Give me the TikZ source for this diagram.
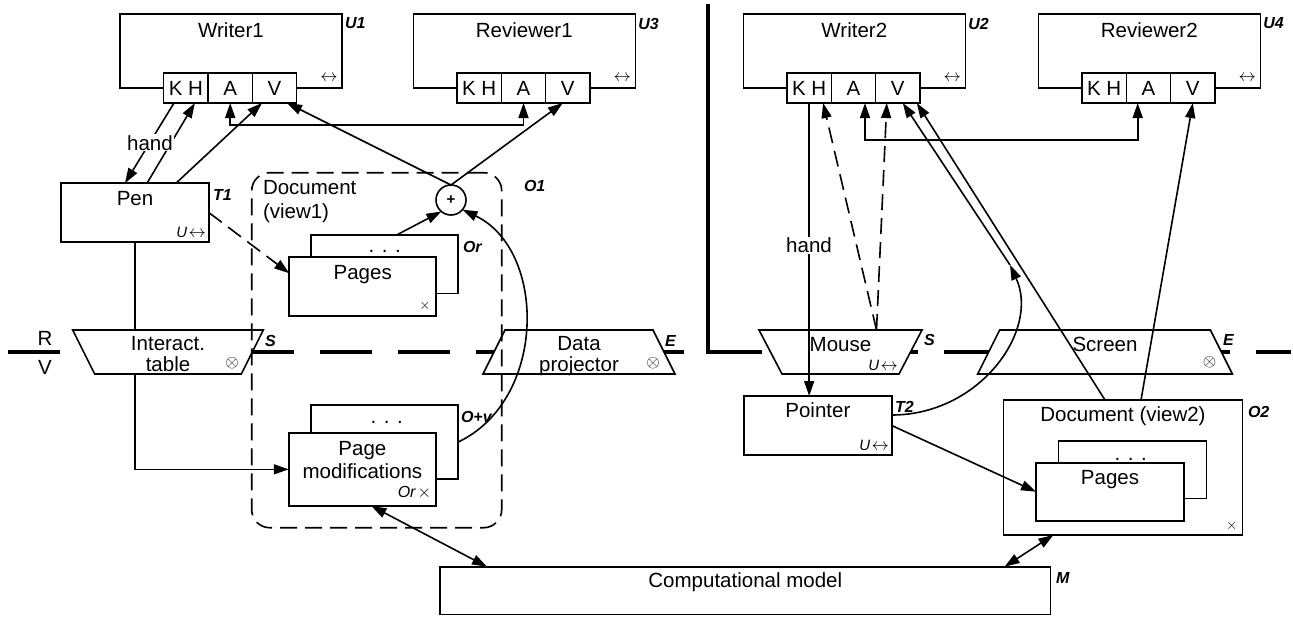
\documentclass[tikz,border=0pt]{standalone}
\usepackage{fontspec}
\setmainfont{Liberation Sans}
\usetikzlibrary{arrows.meta}

% A person: body box, title, tag, channel strip K H | A | V
\newcommand\userbox[4]{%
  \node[box, minimum width=222pt, minimum height=74pt] (#1) at (#2+111,51) {};
  \node[txt] (#1-title) at (#2+111,37.5) {#3};
  \node[tagl] (#1-tag) at (#2+225,23.5) {#4};
  \node[mk] (#1-bi) at (#2+209,78) {$\leftrightarrow$};
  \node[cell] (#1-kh) at (#2+65.85,88) {K H};
  \node[cell] (#1-a) at (#2+110.2,88) {A};
  \node[cell] (#1-v) at (#2+154.5,88) {V};
}
\newcommand\uarrow{{\fontsize{15}{15}\selectfont\itshape U}\kern1.5pt$\leftrightarrow$}

\begin{document}
\begin{tikzpicture}[x=1pt,y=-1pt,
  every node/.style={inner sep=0pt, outer sep=0pt},
  lw/.style={line width=1.6pt},
  box/.style={draw, line width=1.6pt, fill=white, rectangle},
  txt/.style={font=\fontsize{20.5}{22}\selectfont, anchor=base},
  tagl/.style={font=\fontsize{16}{16}\selectfont\bfseries\itshape, anchor=west},
  mk/.style={font=\fontsize{17}{17}\selectfont},
  cell/.style={box, minimum width=44.33pt, minimum height=30pt, font=\fontsize{20.5}{22}\selectfont},
  arr/.style={line width=1.6pt, -{Triangle[length=15pt,width=10pt]}},
  darr/.style={line width=1.6pt, {Triangle[length=15pt,width=10pt]}-{Triangle[length=15pt,width=10pt]}},
  dsh/.style={dash pattern=on 16pt off 8pt},
]
\useasboundingbox (0,0) rectangle (1293,616);

% real / virtual separator and the wall between the two rooms
\draw[line width=4.3pt, dash pattern=on 52pt off 26pt] (8,352) -- (1291,352);
\draw[line width=4.5pt] (708,4) -- (708,352) -- (760,352);
\node[txt] (lblR) at (45,345.7) {R};
\node[txt] (lblV) at (45,374.3) {V};

% interaction devices
\node[minimum width=190.6pt, minimum height=44pt] (tbl) at (168,352) {};
\draw[lw, fill=white] (tbl.north west) -- (tbl.north east) -- ([xshift=-22pt]tbl.south east) -- ([xshift=22pt]tbl.south west) -- cycle;
\node[txt] (tbl-t1) at (168,350) {Interact.};
\node[txt] (tbl-t2) at (168,371.7) {table};
\node[mk] (tbl-m) at (232,363) {$\otimes$};
\node[tagl] (tbl-tag) at (265,341) {S};

\node[minimum width=192pt, minimum height=44pt] (proj) at (579,352) {};
\draw[lw, fill=white] ([xshift=22pt]proj.north west) -- ([xshift=-22pt]proj.north east) -- (proj.south east) -- (proj.south west) -- cycle;
\node[txt] (proj-t1) at (579,350) {Data};
\node[txt] (proj-t2) at (579,371) {projector};
\node[mk] (proj-m) at (653,363) {$\otimes$};
\node[tagl] (proj-tag) at (665,341) {E};

\node[minimum width=163pt, minimum height=44pt] (mouse) at (840.5,352) {};
\draw[lw, fill=white] (mouse.north west) -- (mouse.north east) -- ([xshift=-23pt]mouse.south east) -- ([xshift=23pt]mouse.south west) -- cycle;
\node[txt] (mouse-t) at (840.5,351.7) {Mouse};
\node[mk, anchor=east] (mouse-m) at (898,365) {\uarrow};
\node[tagl] (mouse-tag) at (924,340) {S};

\node[minimum width=254.7pt, minimum height=44pt] (scr) at (1105,352) {};
\draw[lw, fill=white] ([xshift=22pt]scr.north west) -- ([xshift=-22pt]scr.north east) -- (scr.south east) -- (scr.south west) -- cycle;
\node[txt] (scr-t) at (1105,351.7) {Screen};
\node[mk] (scr-m) at (1209.5,362) {$\otimes$};
\node[tagl] (scr-tag) at (1223,340) {E};

% shared document, first room
\node[draw, lw, dash pattern=on 17pt off 8pt, rounded corners=18pt, minimum width=250pt, minimum height=355pt] (doc1) at (376.7,350.2) {};
\node[txt, anchor=base west] (doc1-t1) at (263,194) {Document};
\node[txt, anchor=base west] (doc1-t2) at (263,218) {(view1)};
\node[tagl] (doc1-tag) at (524,186) {O1};

\node[box, minimum width=147pt, minimum height=58.5pt] (pg1b) at (384.7,264.2) {};
\node[txt] (pg1b-t) at (384.7,252.5) {. . .};
\node[box, minimum width=147pt, minimum height=59pt] (pg1f) at (362.7,286.2) {};
\node[txt] (pg1f-t) at (362.7,279.3) {Pages};
\node[mk] (pg1f-m) at (425,306) {\fontsize{15}{15}\selectfont$\times$};
\node[tagl] (pg1-tag) at (463,247) {Or};

\node[box, minimum width=147pt, minimum height=74pt] (pmb) at (384.7,442) {};
\node[txt] (pmb-t) at (386.7,423.3) {. . .};
\node[box, minimum width=147.3pt, minimum height=73.3pt] (pmf) at (362.4,469.35) {};
\node[txt] (pmf-t1) at (362.4,455) {Page};
\node[txt] (pmf-t2) at (362.4,478.3) {modifications};
\node[anchor=east, font=\fontsize{16}{16}\selectfont] (pmf-m) at (431,493) {\itshape Or\kern2pt\upshape$\times$};
\node[tagl] (pm-tag) at (461,417) {O+v};

\node[circle, draw, lw, fill=white, minimum size=30pt, font=\fontsize{15}{15}\selectfont\bfseries] (plus) at (451,200) {+};

% people
\userbox{w1}{120}{Writer1}{U1}
\userbox{r1}{413.3}{Reviewer1}{U3}
\userbox{w2}{743.3}{Writer2}{U2}
\userbox{r2}{1038.3}{Reviewer2}{U4}

% tools
\node[box, minimum width=148pt, minimum height=59pt] (pen) at (135,212.7) {};
\node[txt] (pen-t) at (135,205) {Pen};
\node[mk, anchor=east] (pen-m) at (206,232) {\uarrow};
\node[tagl] (pen-tag) at (213,195) {T1};

\node[box, minimum width=147.7pt, minimum height=59pt] (ptr) at (817.85,425.5) {};
\node[txt] (ptr-t) at (817.85,417.7) {Pointer};
\node[mk, anchor=east] (ptr-m) at (889,445) {\uarrow};
\node[tagl] (ptr-tag) at (895,407) {T2};

% shared document, second room
\node[box, minimum width=239.3pt, minimum height=135pt] (doc2) at (1123,467.5) {};
\node[txt] (doc2-t) at (1123,421.7) {Document (view2)};
\node[mk] (doc2-m) at (1231.8,526) {\fontsize{15}{15}\selectfont$\times$};
\node[tagl] (doc2-tag) at (1248,412) {O2};
\node[box, minimum width=148pt, minimum height=57.6pt] (pg2b) at (1132.5,469.5) {};
\node[txt] (pg2b-t) at (1130.7,460) {. . .};
\node[box, minimum width=148pt, minimum height=58pt] (pg2f) at (1110,491.7) {};
\node[txt] (pg2f-t) at (1110,484.3) {Pages};

% model
\node[box, minimum width=610.6pt, minimum height=47.6pt] (cm) at (745.3,590.5) {};
\node[txt] (cm-t) at (745.3,587.3) {Computational model};
\node[tagl] (cm-tag) at (1056,578) {M};

% connectors, first room
\draw[arr] ([xshift=-11.85pt]w1-kh.south) -- ([xshift=-10pt]pen.north);
\draw[arr] ([xshift=12pt]pen.north) -- ([xshift=9pt]w1-kh.south);
\draw[arr] ([xshift=41pt]pen.north) -- ([xshift=-12.5pt]w1-v.south);
\node[txt, fill=white, inner sep=1pt] (hand1) at (150,150) {hand};
\draw[arr] (plus.north) -- ([xshift=12.5pt]w1-v.south);
\draw[arr] (plus.north) -- ([xshift=-5pt]r1-v.south);
\draw[darr] (w1-a.south) -- ++(0,22) -| (r1-a.south);
\draw[arr, dsh] (pen.east) -- ([yshift=13pt]pg1f.west);
\draw[arr] ([xshift=12pt]pg1b.north) -- (plus.-130);
\draw[arr] (pmb.east) .. controls (547,400) and (547,250) .. (plus.-40);
\draw[lw] (pen.south) -- (pen.south |- tbl.north);
\draw[arr] (pen.south |- tbl.south) |- (pmf.west);
\draw[darr] ([xshift=9pt]pmf.south) -- ([xshift=47pt]cm.north west);

% connectors, second room
\draw[darr] ([xshift=-46pt]cm.north east) -- ([xshift=50pt]doc2.south west);
\draw[darr] ([xshift=11.5pt]w2-a.south) -- ++(0,37) -| ([xshift=-10.8pt]r2-a.south);
\draw[arr] (w2-kh.south) -- (w2-kh.south |- ptr.north);
\node[txt, fill=white, inner sep=1pt] (hand2) at (809,252.7) {hand};
\draw[arr, dsh] ([xshift=36pt]mouse.north) -- ([xshift=14pt]w2-kh.south);
\draw[arr, dsh] ([xshift=36pt]mouse.north) -- ([xshift=-11pt]w2-v.south);
\coordinate (join) at (1010,265);
\draw[arr] ([yshift=10.5pt]ptr.east) .. controls (980,415) and (1040,330) .. (join);
\draw[arr] (join) -- ([xshift=5pt]w2-v.south);
\draw[arr] ([xshift=-18pt]doc2.north) -- ([xshift=19pt]w2-v.south);
\draw[arr] ([xshift=18pt]doc2.north) -- (r2-v.south);
\draw[arr] (ptr.east) -- (pg2f.west);
\end{tikzpicture}
\end{document}
